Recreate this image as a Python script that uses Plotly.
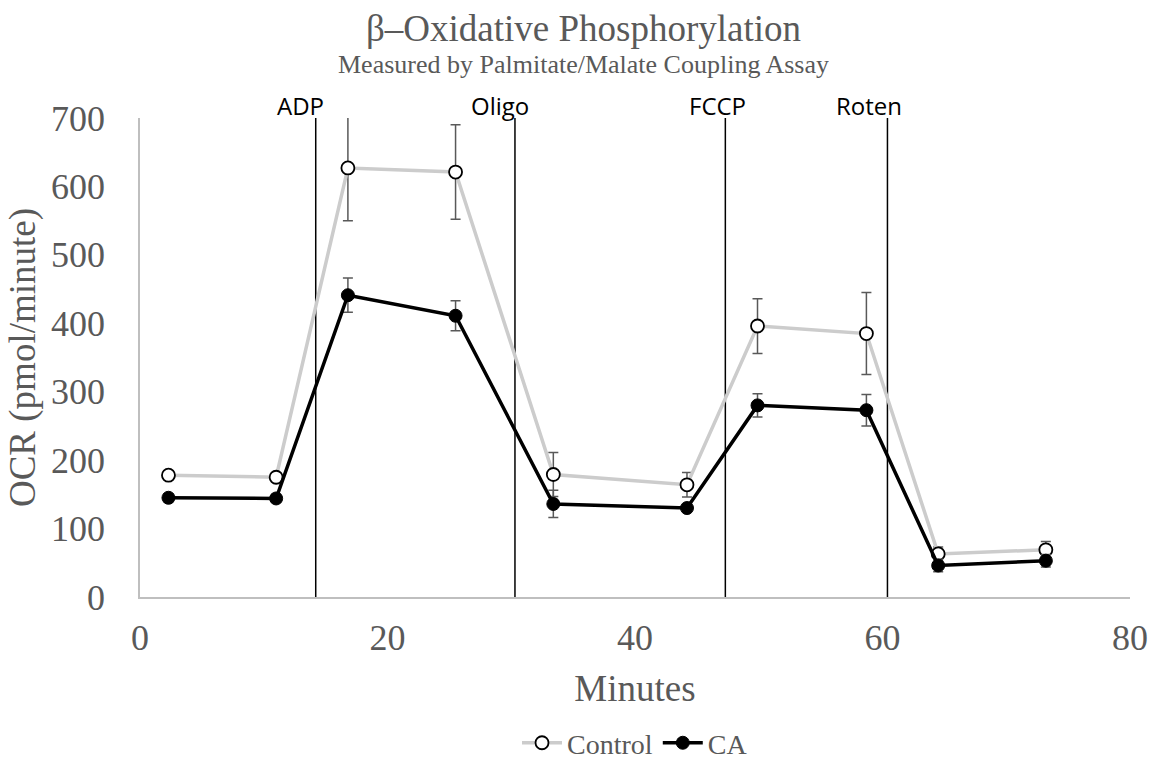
import plotly.graph_objects as go

minutes = [2.3, 11.0, 16.8, 25.5, 33.4, 44.2, 49.9, 58.7, 64.5, 73.2]
control = [178, 175, 627, 621, 179, 164, 396, 385, 63, 69]
control_err = [6, 6, 77, 69, 32, 18, 40, 60, 10, 12]
ca = [145, 144, 441, 411, 136, 130, 280, 273, 46, 53]
ca_err = [6, 6, 25, 22, 20, 5, 17, 23, 9, 9]

injections = ["ADP", "Oligo", "FCCP", "Roten"]
injection_times = [14.2, 30.3, 47.3, 60.4]
injection_label_x = [13.0, 29.1, 46.7, 58.9]

serif = "Liberation Serif, Times New Roman, serif"
sans = "Open Sans, Liberation Sans, sans-serif"
gray = "#595959"

fig = go.Figure()
fig.add_trace(go.Scatter(
    x=minutes, y=control, name="Control", mode="lines+markers",
    line=dict(color="#cccccc", width=3.5),
    marker=dict(symbol="circle", size=13, color="white", line=dict(color="black", width=1.8)),
    error_y=dict(type="data", array=control_err, color=gray, thickness=1.5, width=5),
))
fig.add_trace(go.Scatter(
    x=minutes, y=ca, name="CA", mode="lines+markers",
    line=dict(color="black", width=3.5),
    marker=dict(symbol="circle", size=13, color="black", line=dict(color="black", width=1)),
    error_y=dict(type="data", array=ca_err, color=gray, thickness=1.5, width=5),
))

for t in injection_times:
    fig.add_shape(type="line", x0=t, x1=t, y0=0, y1=700, xref="x", yref="y",
                  line=dict(color="black", width=1.5), layer="below")

title_x = (583 - 140) / 990
annotations = [
    dict(x=title_x, y=1.188, xref="paper", yref="paper", yanchor="middle", height=44,
         text="β–Oxidative Phosphorylation", showarrow=False,
         font=dict(family=serif, size=37, color=gray)),
    dict(x=title_x, y=1.1127, xref="paper", yref="paper", yanchor="middle", height=31,
         text="Measured by Palmitate/Malate Coupling Assay", showarrow=False,
         font=dict(family=serif, size=26, color=gray)),
]
for name, lx in zip(injections, injection_label_x):
    annotations.append(dict(x=lx, y=700, xref="x", yref="y", text=name, showarrow=False,
                            xanchor="center", yanchor="bottom", yshift=-6,
                            font=dict(family=sans, size=24, color="black")))

fig.update_layout(
    width=1167, height=759,
    margin=dict(l=140, r=37, t=118, b=162, autoexpand=False),
    paper_bgcolor="white", plot_bgcolor="white",
    showlegend=True,
    legend=dict(orientation="h", x=0.5, xanchor="center", yref="container", y=0.021, yanchor="middle",
                font=dict(family=serif, size=28, color=gray), itemwidth=40,
                bgcolor="rgba(0,0,0,0)"),
    annotations=annotations,
)

fig.update_xaxes(range=[0, 80], dtick=20, showgrid=False, zeroline=False, automargin=False,
                 showline=True, linecolor="#bfbfbf", linewidth=1.5,
                 ticks="", ticklen=0, tickfont=dict(family=serif, size=36, color=gray),
                 ticklabelstandoff=8,
                 title=dict(text="Minutes", font=dict(family=serif, size=37, color=gray), standoff=18))
fig.update_yaxes(range=[0, 700], dtick=100, showgrid=False, zeroline=False, automargin=False,
                 showline=True, linecolor="#bfbfbf", linewidth=1.5,
                 ticks="", ticklen=0, tickfont=dict(family=serif, size=36, color=gray),
                 ticklabelstandoff=26,
                 title=dict(text="OCR (pmol/minute)", font=dict(family=serif, size=37, color=gray), standoff=4))

fig.write_html("out.html")
